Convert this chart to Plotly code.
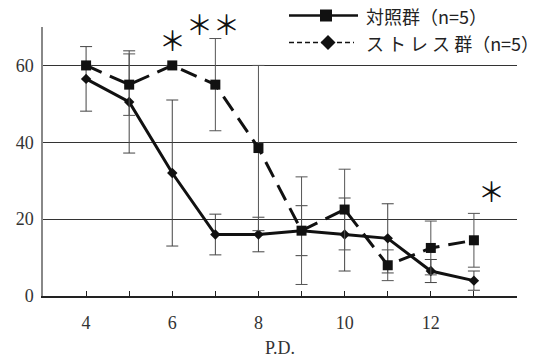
import plotly.graph_objects as go

# ---- data ----
pd_days = [4, 5, 6, 7, 8, 9, 10, 11, 12, 13]
dashed_square_mean = [60, 55, 60, 55, 38.5, 17, 22.5, 8, 12.5, 14.5]
dashed_square_err = [0, 8, 0, 12, 21.5, 14, 10.5, 4, 7, 7]
solid_diamond_mean = [56.5, 50.5, 32, 16, 16, 17, 16, 15, 6.5, 4]
solid_diamond_err = [8.4, 13.3, 19, 5.3, 4.5, 6.5, 9.5, 9, 3, 2.5]

xtick_vals = [4, 5, 6, 7, 8, 9, 10, 11, 12, 13, 14]
xtick_text = ["4", "", "6", "", "8", "", "10", "", "12", "", ""]
ytick_vals = [0, 20, 40, 60]

legend_labels = ["対照群（n=5）", "ス ト レ ス 群（n=5）"]
sig_marks = [(6, 66.8, "＊"), (6.95, 70.9, "＊＊"), (13.4, 27.5, "＊")]

W, H = 548, 361
L, R, T, B = 43, 31, 27, 65

SERIF = "Liberation Serif, DejaVu Serif, serif"
CJK = "Noto Sans CJK JP, Noto Sans, sans-serif"

fig = go.Figure()

fig.add_trace(go.Scatter(
    x=pd_days, y=solid_diamond_mean, mode="lines+markers",
    line=dict(color="#111", width=3),
    marker=dict(symbol="diamond", size=8, color="#111"),
    error_y=dict(type="data", array=solid_diamond_err, visible=True,
                 color="#444", thickness=1, width=6),
    showlegend=False, cliponaxis=False,
))
fig.add_trace(go.Scatter(
    x=pd_days, y=dashed_square_mean, mode="lines+markers",
    line=dict(color="#111", width=3, dash="17px,9px"),
    marker=dict(symbol="square", size=10, color="#111"),
    error_y=dict(type="data", array=dashed_square_err, visible=True,
                 color="#555", thickness=1, width=6),
    showlegend=False, cliponaxis=False,
))

# significance marks (keep anchor inside the axis range, shift the rest in px)
ymax_in = 69.9
px_per_unit = (361 - 27 - 65) / 70
for x, y, t in sig_marks:
    ya = min(y, ymax_in)
    fig.add_annotation(x=x, y=ya, yshift=(y - ya) * px_per_unit,
                       text=t, showarrow=False,
                       font=dict(family=CJK, size=27, color="#111"))

# hand-drawn legend in pixel space -> paper coords
pw, ph = W - L - R, H - T - B
def px(xp):
    return (xp - L) / pw
def py(yp):
    return (H - B - yp) / ph

rows = [(15.5, "solid", "square", legend_labels[0]),
        (42.5, "dash", "diamond", legend_labels[1])]
shapes = []
for yy, dash, sym, lab in rows:
    if dash == "solid":
        shapes.append(dict(type="line", xref="paper", yref="paper",
                           x0=px(289), x1=px(358), y0=py(yy), y1=py(yy),
                           line=dict(color="#111", width=2.5)))
        s = 6
        shapes.append(dict(type="rect", xref="paper", yref="paper",
                           x0=px(326 - s), x1=px(326 + s), y0=py(yy + s), y1=py(yy - s),
                           fillcolor="#111", line=dict(width=0)))
    else:
        shapes.append(dict(type="line", xref="paper", yref="paper",
                           x0=px(289), x1=px(354), y0=py(yy), y1=py(yy),
                           line=dict(color="#111", width=1.5, dash="5px,3px")))
        s = 7.5
        cx = 328
        path = (f"M {px(cx - s)} {py(yy)} L {px(cx)} {py(yy - s)} "
                f"L {px(cx + s)} {py(yy)} L {px(cx)} {py(yy + s)} Z")
        shapes.append(dict(type="path", xref="paper", yref="paper", path=path,
                           fillcolor="#111", line=dict(width=0)))
    fig.add_annotation(xref="paper", yref="paper", x=px(364), y=py(yy),
                       xanchor="left", yanchor="middle", text=lab, showarrow=False,
                       font=dict(family=CJK, size=18, color="#222"))

fig.update_layout(
    width=W, height=H,
    margin=dict(l=L, r=R, t=T, b=B, autoexpand=False),
    paper_bgcolor="white", plot_bgcolor="white",
    shapes=shapes,
    xaxis=dict(range=[3, 14], tickvals=xtick_vals, ticktext=xtick_text,
               ticks="inside", ticklen=5, tickcolor="#222", tickwidth=1,
               showline=True, linecolor="#222", linewidth=1.5,
               showgrid=False, zeroline=False, ticklabelstandoff=10,
               automargin=False,
               tickfont=dict(family=SERIF, size=18, color="#333"),
               title=dict(text="P.D.", font=dict(family=SERIF, size=18, color="#333"),
                          standoff=9)),
    yaxis=dict(range=[0, 70], tickvals=ytick_vals, ticks="",
               showline=True, linecolor="#888", linewidth=1.5,
               showgrid=True, gridcolor="#333", gridwidth=1, zeroline=False,
               ticklabelstandoff=4, automargin=False,
               tickfont=dict(family=SERIF, size=18, color="#333")),
)

fig.write_html("out.html")
